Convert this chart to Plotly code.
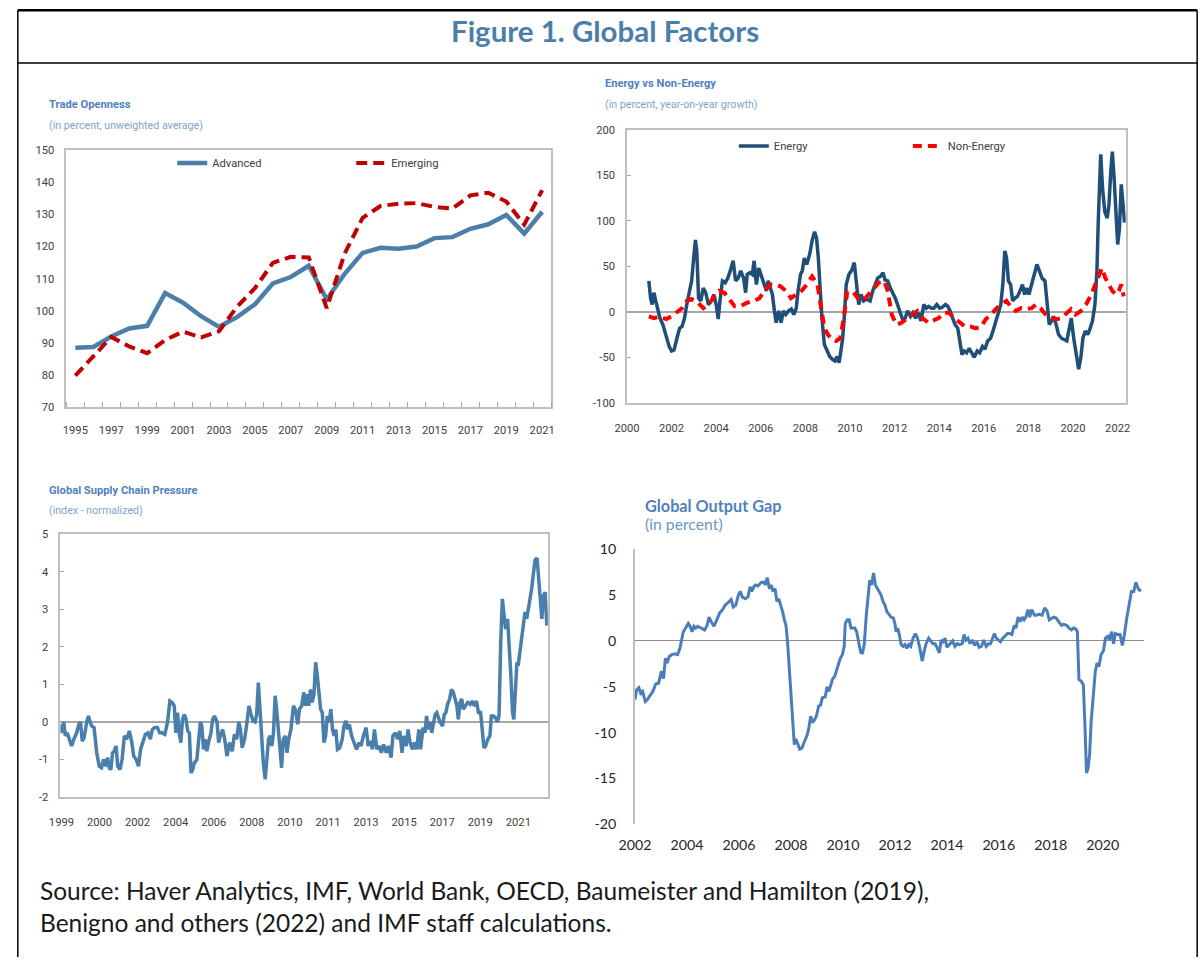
import plotly.graph_objects as go

W, H = 1202, 965
# The photographed page shows up slightly scaled and shifted; positions below are given in the
# reference picture's pixels and mapped back to page pixels with this correction.
CX0, CSX = 13.5, 0.985
CY0, CSY = 8.0, 0.982
FS = 1.016  # font size correction for the same scaling

# ---------------- Data ----------------
trade_years = list(range(1995, 2022))
advanced = [88.5, 88.7, 92.0, 94.5, 95.3, 105.5, 102.5, 98.3, 95.0, 98.0, 102.0, 108.5, 110.5, 114.0,
            103.5, 111.5, 118.0, 119.6, 119.3, 120.0, 122.6, 122.9, 125.5, 126.9, 129.8, 124.0, 130.8]
emerging = [79.8, 85.8, 91.8, 88.9, 86.8, 90.9, 93.5, 91.7, 93.6, 101.2, 107.0, 114.9, 116.8, 116.6,
            100.8, 117.8, 128.9, 132.6, 133.3, 133.5, 132.3, 131.8, 135.9, 136.7, 134.0, 126.8, 137.5]

energy_x = [2000.98, 2001.06, 2001.13, 2001.21, 2001.29, 2001.37, 2001.48, 2001.61, 2001.76, 2001.89,
            2002.00, 2002.11, 2002.24, 2002.36, 2002.47, 2002.58, 2002.68, 2002.79, 2002.90, 2002.99,
            2003.07, 2003.13, 2003.21, 2003.31, 2003.42, 2003.53, 2003.65, 2003.78, 2003.89, 2004.00,
            2004.09, 2004.17, 2004.28, 2004.41, 2004.52, 2004.63, 2004.76, 2004.87, 2004.99, 2005.10,
            2005.23, 2005.32, 2005.39, 2005.51, 2005.62, 2005.70, 2005.80, 2005.91, 2006.02, 2006.13,
            2006.25, 2006.33, 2006.41, 2006.52, 2006.61, 2006.69, 2006.80, 2006.91, 2007.01, 2007.12,
            2007.24, 2007.37, 2007.48, 2007.59, 2007.67, 2007.78, 2007.86, 2007.95, 2008.06, 2008.19,
            2008.30, 2008.41, 2008.50, 2008.58, 2008.66, 2008.74, 2008.85, 2008.98, 2009.09, 2009.20,
            2009.32, 2009.42, 2009.51, 2009.59, 2009.67, 2009.75, 2009.83, 2009.95, 2010.08, 2010.19,
            2010.30, 2010.39, 2010.50, 2010.61, 2010.74, 2010.90, 2011.02, 2011.13, 2011.24, 2011.37,
            2011.48, 2011.57, 2011.69, 2011.81, 2011.92, 2012.03, 2012.13, 2012.24, 2012.35, 2012.47,
            2012.58, 2012.71, 2012.82, 2012.94, 2013.07, 2013.18, 2013.31, 2013.42, 2013.53, 2013.65,
            2013.76, 2013.89, 2014.02, 2014.13, 2014.28, 2014.39, 2014.49, 2014.60, 2014.71, 2014.83,
            2014.94, 2015.02, 2015.12, 2015.23, 2015.34, 2015.46, 2015.57, 2015.70, 2015.81, 2015.94,
            2016.05, 2016.17, 2016.30, 2016.41, 2016.54, 2016.65, 2016.76, 2016.85, 2016.94, 2017.02,
            2017.10, 2017.20, 2017.29, 2017.40, 2017.51, 2017.62, 2017.73, 2017.83, 2017.92, 2018.02,
            2018.14, 2018.27, 2018.38, 2018.49, 2018.61, 2018.74, 2018.83, 2018.93, 2019.04, 2019.13,
            2019.24, 2019.35, 2019.48, 2019.59, 2019.72, 2019.83, 2019.92, 2020.03, 2020.16, 2020.25,
            2020.35, 2020.44, 2020.55, 2020.66, 2020.77, 2020.87, 2020.98, 2021.07, 2021.13, 2021.24,
            2021.32, 2021.42, 2021.53, 2021.61, 2021.69, 2021.76, 2021.84, 2021.92, 2022.00, 2022.08,
            2022.16, 2022.24, 2022.31]
energy = [34, 15, 8, 21, 12, 4, -7, -14, -27, -38,
          -43, -42, -29, -18, -16, -7, 8, 23, 34, 59,
          79, 67, 15, 12, 26, 21, 8, 12, 19, 8,
          -8, 12, 34, 32, 37, 45, 56, 34, 37, 45,
          37, 21, 41, 43, 41, 56, 30, 48, 39, 30,
          23, 34, 26, 19, 1, -12, 1, -12, 1, -3,
          1, 3, -3, 4, 23, 41, 45, 59, 52, 63,
          78, 88, 81, 59, 26, -7, -36, -43, -49, -52,
          -54, -49, -56, -43, -29, -3, 30, 41, 46, 54,
          26, 8, 19, 12, 14, 12, 23, 30, 37, 39,
          43, 35, 34, 26, 21, 15, 8, 1, -8, -7,
          1, -5, -1, -7, -1, -10, 8, 4, 6, 4,
          4, 8, 4, 5, 8, 6, 1, -7, -14, -18,
          -36, -47, -43, -45, -40, -45, -50, -43, -45, -38,
          -41, -32, -29, -21, -10, -3, 8, 30, 67, 59,
          34, 30, 12, 15, 17, 23, 30, 19, 26, 19,
          30, 45, 52, 45, 37, 34, 8, -14, -10, -5,
          -14, -25, -29, -30, -32, -18, -7, -29, -50, -63,
          -50, -29, -21, -25, -18, -10, 8, 45, 100, 173,
          136, 110, 103, 118, 154, 176, 147, 103, 74, 92,
          140, 118, 98]

nonenergy_x = [2000.98, 2001.21, 2001.45, 2001.76, 2002.00, 2002.24, 2002.47, 2002.68, 2002.90, 2003.18,
               2003.42, 2003.65, 2003.89, 2004.13, 2004.36, 2004.60, 2004.83, 2005.07, 2005.39, 2005.70,
               2005.94, 2006.17, 2006.41, 2006.65, 2006.88, 2007.12, 2007.35, 2007.59, 2007.83, 2008.06,
               2008.30, 2008.54, 2008.69, 2008.85, 2009.01, 2009.17, 2009.37, 2009.56, 2009.72, 2009.87,
               2010.11, 2010.35, 2010.58, 2010.82, 2011.06, 2011.29, 2011.53, 2011.69, 2011.87, 2012.08,
               2012.31, 2012.55, 2012.79, 2013.02, 2013.26, 2013.50, 2013.73, 2013.97, 2014.20, 2014.44,
               2014.68, 2014.91, 2015.15, 2015.39, 2015.62, 2015.86, 2016.09, 2016.33, 2016.57, 2016.80,
               2017.01, 2017.20, 2017.43, 2017.67, 2017.91, 2018.14, 2018.33, 2018.54, 2018.77, 2019.01,
               2019.24, 2019.48, 2019.72, 2019.91, 2020.11, 2020.35, 2020.58, 2020.82, 2021.06, 2021.29,
               2021.45, 2021.61, 2021.76, 2021.92, 2022.05, 2022.16, 2022.27]
nonenergy = [-5, -7, -5, -8, -5, -1, 4, 12, 14, 10,
             4, 8, 15, 23, 21, 14, 6, 6, 10, 12,
             15, 23, 30, 30, 28, 23, 15, 19, 23, 30,
             39, 30, 8, -18, -25, -30, -32, -29, -7, 21,
             23, 15, 12, 19, 26, 32, 34, 23, -3, -14,
             -12, -7, -3, 1, -7, -12, -10, -7, -1, -1,
             -7, -12, -16, -16, -18, -17, -8, -3, 4, 8,
             12, 6, 1, 4, 3, 4, 8, 4, -3, -7,
             -8, -7, -1, 3, -3, 1, 8, 19, 34, 48,
             37, 30, 23, 19, 23, 30, 17]

supply_x = [1998.95, 1999.03, 1999.11, 1999.19, 1999.28, 1999.39, 1999.49, 1999.60, 1999.73, 1999.84,
            1999.92, 2000.00, 2000.09, 2000.22, 2000.30, 2000.38, 2000.46, 2000.57, 2000.70, 2000.82,
            2000.93, 2001.03, 2001.14, 2001.22, 2001.30, 2001.38, 2001.46, 2001.54, 2001.63, 2001.71,
            2001.82, 2001.92, 2002.03, 2002.14, 2002.27, 2002.39, 2002.48, 2002.60, 2002.71, 2002.81,
            2002.92, 2003.04, 2003.17, 2003.28, 2003.38, 2003.49, 2003.62, 2003.73, 2003.85, 2003.98,
            2004.11, 2004.22, 2004.33, 2004.43, 2004.51, 2004.59, 2004.67, 2004.75, 2004.83, 2004.92,
            2005.00, 2005.08, 2005.16, 2005.24, 2005.32, 2005.40, 2005.52, 2005.60, 2005.69, 2005.76,
            2005.84, 2005.92, 2006.00, 2006.08, 2006.20, 2006.28, 2006.37, 2006.49, 2006.57, 2006.65,
            2006.76, 2006.86, 2006.97, 2007.09, 2007.22, 2007.33, 2007.44, 2007.54, 2007.62, 2007.70,
            2007.82, 2007.91, 2008.03, 2008.11, 2008.22, 2008.32, 2008.40, 2008.48, 2008.56, 2008.64,
            2008.72, 2008.81, 2008.89, 2008.97, 2009.05, 2009.13, 2009.21, 2009.29, 2009.36, 2009.44,
            2009.52, 2009.60, 2009.68, 2009.78, 2009.86, 2009.94, 2010.05, 2010.17, 2010.26, 2010.38,
            2010.46, 2010.57, 2010.67, 2010.75, 2010.83, 2010.91, 2010.99, 2011.07, 2011.16, 2011.24,
            2011.32, 2011.40, 2011.48, 2011.56, 2011.64, 2011.72, 2011.80, 2011.89, 2011.97, 2012.05,
            2012.13, 2012.21, 2012.29, 2012.40, 2012.52, 2012.60, 2012.70, 2012.78, 2012.86, 2012.97,
            2013.08, 2013.21, 2013.33, 2013.42, 2013.54, 2013.67, 2013.77, 2013.86, 2013.98, 2014.07,
            2014.19, 2014.30, 2014.40, 2014.51, 2014.64, 2014.75, 2014.87, 2014.96, 2015.08, 2015.19,
            2015.29, 2015.40, 2015.48, 2015.60, 2015.69, 2015.77, 2015.89, 2016.00, 2016.10, 2016.21,
            2016.29, 2016.41, 2016.50, 2016.58, 2016.67, 2016.75, 2016.83, 2016.91, 2016.99, 2017.07,
            2017.15, 2017.23, 2017.35, 2017.43, 2017.51, 2017.59, 2017.69, 2017.78, 2017.87, 2017.96,
            2018.04, 2018.11, 2018.19, 2018.27, 2018.35, 2018.45, 2018.56, 2018.68, 2018.77, 2018.89,
            2018.98, 2019.08, 2019.18, 2019.26, 2019.34, 2019.42, 2019.53, 2019.63, 2019.70, 2019.79,
            2019.89, 2019.99, 2020.07, 2020.15, 2020.23, 2020.31, 2020.39, 2020.48, 2020.56, 2020.64,
            2020.72, 2020.78, 2020.86, 2020.93, 2020.99, 2021.08, 2021.16, 2021.24, 2021.32, 2021.40,
            2021.48, 2021.56, 2021.64, 2021.72, 2021.80, 2021.90, 2021.97, 2022.05, 2022.13, 2022.21,
            2022.29, 2022.37]
supply = [-0.06, -0.29, 0.0, -0.37, -0.29, -0.46, -0.64, -0.46, -0.29, -0.06,
          0.0, -0.51, -0.42, 0.0, 0.16, 0.0, -0.11, -0.15, -0.82, -1.18,
          -1.22, -1.0, -1.18, -0.95, -1.22, -1.27, -0.82, -0.78, -0.64, -1.18,
          -1.27, -1.0, -0.37, -0.46, -0.24, -0.55, -0.91, -1.0, -1.18, -0.73,
          -0.55, -0.33, -0.29, -0.46, -0.2, -0.15, -0.15, -0.29, -0.29, -0.33,
          0.0, 0.56, 0.52, 0.43, -0.29, 0.25, -0.29, -0.55, 0.07, 0.2,
          0.07, -0.24, -0.29, -1.36, -1.27, -1.09, -1.0, -0.55, 0.0, -0.11,
          -0.73, -0.46, -0.78, -0.55, -0.29, 0.07, 0.16, 0.0, -0.55, -0.37,
          -0.2, -0.46, -0.91, -0.55, -0.78, -0.33, -0.46, 0.0, -0.2, -0.69,
          -0.46, -0.11, 0.43, 0.25, 0.03, 0.0, 0.2, 1.05, 0.34, -0.55,
          -1.09, -1.53, -1.09, -0.46, -0.37, -0.64, -0.29, 0.7, 0.34, -0.29,
          -0.82, -1.22, -0.46, -0.37, -0.82, -0.46, -0.2, 0.43, 0.34, -0.06,
          0.34, 0.43, 0.79, 0.43, 0.74, 0.43, 0.87, 0.52, 0.74, 1.59,
          1.23, 0.87, 0.34, 0.25, -0.55, -0.37, 0.16, 0.0, 0.34, -0.2,
          -0.37, -0.2, -0.73, -0.69, -0.46, -0.11, 0.03, -0.2, -0.06, -0.37,
          -0.55, -0.73, -0.55, -0.64, -0.37, -0.15, -0.64, -0.51, -0.73, -0.2,
          -0.73, -0.64, -0.82, -0.6, -0.82, -0.64, -0.95, -0.37, -0.29, -0.46,
          -0.24, -0.82, -0.37, -0.64, -0.2, -0.51, -0.73, -0.55, -0.73, -0.2,
          -0.73, -0.15, -0.29, 0.16, -0.2, 0.0, -0.29, 0.0, 0.2, 0.25,
          0.12, 0.0, -0.11, 0.2, 0.25, 0.47, 0.61, 0.87, 0.79, 0.61,
          0.43, 0.07, 0.52, 0.61, 0.34, 0.43, 0.52, 0.47, 0.56, 0.43,
          0.56, 0.25, 0.25, -0.2, -0.69, -0.64, -0.46, -0.37, 0.16, 0.16,
          0.12, 0.0, 0.16, 2.12, 3.28, 2.84, 2.48, 2.75, 2.12, 1.23,
          0.25, 0.07, 0.87, 1.59, 1.5, 1.94, 2.21, 2.57, 2.93, 2.75,
          3.1, 3.28, 3.55, 4.0, 4.31, 4.37, 3.9, 3.1, 2.75, 3.37,
          3.46, 2.57]
supply_tick_labels = ["1999", "2000", "2002", "2004", "2006", "2008", "2010",
                      "2011", "2013", "2015", "2017", "2019", "2021"]

gap_x = [2002.00, 2002.07, 2002.15, 2002.22, 2002.29, 2002.40, 2002.48, 2002.59, 2002.69, 2002.80,
         2002.91, 2003.02, 2003.10, 2003.17, 2003.24, 2003.32, 2003.42, 2003.54, 2003.64, 2003.73,
         2003.80, 2003.86, 2003.95, 2004.05, 2004.12, 2004.20, 2004.27, 2004.34, 2004.41, 2004.56,
         2004.68, 2004.78, 2004.85, 2004.93, 2005.04, 2005.15, 2005.25, 2005.37, 2005.47, 2005.59,
         2005.70, 2005.78, 2005.88, 2005.98, 2006.05, 2006.13, 2006.24, 2006.35, 2006.43, 2006.49,
         2006.57, 2006.64, 2006.73, 2006.80, 2006.87, 2006.95, 2007.02, 2007.09, 2007.17, 2007.24,
         2007.31, 2007.39, 2007.46, 2007.53, 2007.61, 2007.68, 2007.75, 2007.81, 2007.87, 2007.93,
         2008.00, 2008.07, 2008.13, 2008.19, 2008.26, 2008.34, 2008.42, 2008.48, 2008.56, 2008.63,
         2008.69, 2008.76, 2008.83, 2008.91, 2008.98, 2009.07, 2009.14, 2009.21, 2009.32, 2009.39,
         2009.46, 2009.54, 2009.61, 2009.68, 2009.76, 2009.83, 2009.90, 2009.98, 2010.05, 2010.09,
         2010.17, 2010.24, 2010.31, 2010.39, 2010.46, 2010.53, 2010.61, 2010.68, 2010.75, 2010.82,
         2010.90, 2010.97, 2011.03, 2011.10, 2011.18, 2011.25, 2011.32, 2011.40, 2011.47, 2011.54,
         2011.62, 2011.69, 2011.78, 2011.85, 2011.94, 2012.00, 2012.05, 2012.11, 2012.17, 2012.24,
         2012.32, 2012.39, 2012.46, 2012.54, 2012.61, 2012.70, 2012.79, 2012.87, 2012.96, 2013.05,
         2013.12, 2013.20, 2013.30, 2013.37, 2013.46, 2013.55, 2013.62, 2013.71, 2013.78, 2013.85,
         2013.93, 2014.00, 2014.10, 2014.22, 2014.31, 2014.40, 2014.48, 2014.59, 2014.66, 2014.73,
         2014.81, 2014.89, 2014.98, 2015.07, 2015.16, 2015.24, 2015.33, 2015.42, 2015.51, 2015.60,
         2015.68, 2015.77, 2015.83, 2015.90, 2015.98, 2016.06, 2016.15, 2016.24, 2016.33, 2016.42,
         2016.50, 2016.59, 2016.66, 2016.74, 2016.83, 2016.90, 2016.97, 2017.04, 2017.12, 2017.19,
         2017.26, 2017.37, 2017.44, 2017.54, 2017.66, 2017.76, 2017.85, 2017.94, 2018.03, 2018.11,
         2018.20, 2018.32, 2018.41, 2018.49, 2018.61, 2018.70, 2018.79, 2018.87, 2018.96, 2019.02,
         2019.08, 2019.17, 2019.25, 2019.31, 2019.37, 2019.43, 2019.49, 2019.55, 2019.64, 2019.71,
         2019.78, 2019.85, 2019.93, 2020.02, 2020.10, 2020.19, 2020.25, 2020.34, 2020.41, 2020.48,
         2020.57, 2020.66, 2020.75, 2020.83, 2020.92, 2021.01, 2021.10, 2021.19, 2021.27, 2021.36,
         2021.46]
gap = [-6.4, -5.3, -5.1, -5.7, -5.5, -6.6, -6.4, -5.9, -5.5, -4.7,
       -4.6, -3.3, -4.1, -1.9, -2.4, -1.7, -1.5, -1.4, -1.5, -0.8,
       0.3, 1.0, 1.4, 1.9, 1.6, 1.0, 1.6, 1.4, 1.6, 1.4,
       1.2, 1.7, 2.6, 2.1, 1.6, 2.3, 3.0, 3.4, 3.9, 4.2,
       4.5, 3.7, 3.9, 5.0, 5.4, 4.8, 4.6, 4.8, 5.9, 5.4,
       5.9, 6.1, 6.0, 6.2, 6.4, 6.4, 6.1, 6.9, 5.7, 6.1,
       5.4, 5.7, 4.3, 4.6, 3.9, 3.2, 2.3, 1.7, -0.1, -2.6,
       -5.5, -8.4, -11.3, -10.7, -11.3, -11.8, -11.7, -11.3, -10.6, -10.2,
       -9.5, -8.2, -8.9, -8.6, -8.2, -7.1, -7.0, -6.2, -6.1, -5.0,
       -5.5, -4.6, -4.1, -3.9, -3.2, -2.4, -1.9, -1.5, -0.6, 1.9,
       2.3, 2.3, 1.4, 1.4, 1.4, 1.0, -0.4, -1.2, -1.4, -0.4,
       2.8, 5.4, 6.6, 6.1, 7.4, 6.1, 5.7, 5.4, 5.0, 4.3,
       3.9, 3.2, 2.8, 2.6, 2.5, 1.9, 1.0, 1.4, 0.7, -0.4,
       -0.6, -0.4, -0.8, -0.4, -0.6, 0.3, 0.8, 0.3, -0.8, -2.2,
       -1.2, -0.3, 0.3, 0.0, -0.3, -0.3, -0.8, -1.3, 0.1, -0.1,
       0.3, -0.7, -0.4, 0.0, -0.6, -0.3, -0.4, -0.3, 0.7, 0.1,
       0.3, -0.3, 0.1, -0.5, -0.1, -0.7, -0.6, 0.1, -0.6, -0.3,
       -0.3, 0.3, 0.8, 0.3, 0.1, -0.1, 0.3, 0.5, 0.8, 0.8,
       0.7, 1.7, 1.4, 2.6, 2.1, 2.6, 2.3, 2.6, 3.4, 2.6,
       3.4, 2.8, 2.8, 2.9, 2.8, 3.6, 3.3, 2.3, 2.5, 2.6,
       2.5, 2.0, 1.7, 1.8, 1.7, 1.4, 1.2, 1.4, 1.3, 1.0,
       -4.2, -4.4, -4.8, -9.1, -14.4, -13.9, -12.4, -8.8, -5.1, -3.3,
       -2.4, -2.8, -1.5, -1.1, 0.3, 0.5, 0.1, 1.0, -0.3, 0.8,
       0.7, 0.7, -0.5, 0.7, 2.5, 3.9, 5.4, 5.4, 6.4, 5.7,
       5.4]

energy_yticks = [-100, -50, 0, 50, 100, 150, 200]
supply_yticks = [-2, -1, 0, 1, 2, 3, 4, 5]
gap_yticks = [-20, -15, -10, -5, 0, 5, 10]


# ---------------- Styling helpers (reference pixel -> paper fraction) ----------------
def page_x(r):
    return (r - CX0) / CSX


def page_y(r):
    return (r - CY0) / CSY


def px_x(r):
    return min(max(page_x(r) / W, 0.0007), 0.9993)


def px_y(r):
    return 1 - min(max(page_y(r) / H, 0.0013), 1.0)


def fs(s):
    return round(s * FS, 2)


NARROW = "Roboto, sans-serif"
CALIBRI = "Lato, sans-serif"
BOX = "#bfbfbf"
AX = "#a6a6a6"
TXT = "#404040"

fig = go.Figure()

fig.add_trace(go.Scatter(x=trade_years, y=advanced, mode="lines", name="Advanced",
                         line=dict(color="#4a7fab", width=4.5), xaxis="x", yaxis="y", legend="legend"))
fig.add_trace(go.Scatter(x=trade_years, y=emerging, mode="lines", name="Emerging",
                         line=dict(color="#c00000", width=4, dash="11px,6px"), xaxis="x", yaxis="y",
                         legend="legend"))
fig.add_trace(go.Scatter(x=energy_x, y=energy, mode="lines", name="Energy",
                         line=dict(color="#1f4e79", width=3.5), xaxis="x2", yaxis="y2", legend="legend2"))
fig.add_trace(go.Scatter(x=nonenergy_x, y=nonenergy, mode="lines", name="Non-Energy",
                         line=dict(color="#ff0000", width=4, dash="9px,6px"), xaxis="x2", yaxis="y2",
                         legend="legend2"))
fig.add_trace(go.Scatter(x=supply_x, y=supply, mode="lines", showlegend=False,
                         line=dict(color="#4a7fab", width=3.5), xaxis="x3", yaxis="y3"))
fig.add_trace(go.Scatter(x=gap_x, y=gap, mode="lines", showlegend=False,
                         line=dict(color="#4a7ebb", width=3), xaxis="x4", yaxis="y4"))

tick_small = dict(family=NARROW, size=fs(11), color=TXT)
tick_cal = dict(family=CALIBRI, size=fs(14), color="#262626")

layout = dict(
    width=W, height=H, autosize=False,
    margin=dict(l=0, r=0, t=0, b=0),
    paper_bgcolor="white", plot_bgcolor="white",
    showlegend=True,
    xaxis=dict(domain=[px_x(63), px_x(549)], range=[1994.5, 2021.5], anchor="y",
               tickmode="array", tickvals=trade_years[::2], ticktext=[str(v) for v in trade_years[::2]],
               ticks="", showgrid=False, zeroline=False, showline=True, linecolor=BOX, linewidth=1.5,
               mirror=True, tickfont=tick_small, ticklabelstandoff=12,
               minor=dict(ticks="inside", tick0=1994.5, dtick=1, ticklen=5, tickcolor=AX, showgrid=False)),
    yaxis=dict(domain=[px_y(406), px_y(149)], range=[70, 150], dtick=10, anchor="x",
               ticks="", showgrid=False, zeroline=False, showline=True, linecolor=BOX, linewidth=1.5,
               mirror=True, tickfont=tick_small, ticklabelstandoff=8),
    xaxis2=dict(domain=[px_x(625), px_x(1125)], range=[2000, 2022.36], anchor="y2",
                tick0=2000, dtick=2, ticks="", showgrid=False, zeroline=False, showline=True,
                linecolor=BOX, linewidth=1.5, mirror=True, tickfont=tick_small, ticklabelstandoff=14),
    yaxis2=dict(domain=[px_y(401.7), px_y(128.7)], range=[-100, 200], anchor="x2",
                tickmode="array", tickvals=energy_yticks, ticktext=[str(v) for v in energy_yticks],
                ticks="inside", ticklen=4, tickcolor=AX, showgrid=False, zeroline=True,
                zerolinecolor=AX, zerolinewidth=1.5, showline=True, linecolor=BOX, linewidth=1.5,
                mirror=True, tickfont=tick_small, ticklabelstandoff=8),
    xaxis3=dict(domain=[px_x(57), px_x(545.7)], range=[1998.95, 2022.42], anchor="y3",
                tickmode="array", tickvals=[1999 + 22 * k / 12 for k in range(len(supply_tick_labels))],
                ticktext=supply_tick_labels, ticks="", showgrid=False, zeroline=False, showline=True,
                linecolor=BOX, linewidth=1.5, mirror=True, tickfont=tick_small, ticklabelstandoff=14),
    yaxis3=dict(domain=[px_y(795.7), px_y(533.2)], range=[-2, 5], anchor="x3",
                tickmode="array", tickvals=supply_yticks, ticktext=[str(v) for v in supply_yticks],
                ticks="inside", ticklen=4, tickcolor=AX, showgrid=False, zeroline=True,
                zerolinecolor=AX, zerolinewidth=1.5, showline=True, linecolor=BOX, linewidth=1.5,
                mirror=True, tickfont=tick_small, ticklabelstandoff=8),
    xaxis4=dict(domain=[px_x(633), px_x(1143)], range=[2002, 2021.57], anchor="y4",
                tick0=2002, dtick=2, ticks="", showgrid=False, zeroline=False, showline=False,
                tickfont=tick_cal, ticklabelstandoff=10),
    yaxis4=dict(domain=[px_y(823), px_y(548)], range=[-20, 10], anchor="x4",
                tickmode="array", tickvals=gap_yticks, ticktext=[str(v) for v in gap_yticks],
                ticks="", showgrid=False, zeroline=True, zerolinecolor="#8c8c8c", zerolinewidth=1,
                showline=True, linecolor="#bfbfbf", linewidth=1.5,
                tickfont=tick_cal, ticklabelstandoff=14),
    legend=dict(orientation="h", x=page_x(178) / W - 9 / W, y=px_y(162), xanchor="left", yanchor="middle",
                bgcolor="rgba(0,0,0,0)", font=dict(family=NARROW, size=fs(11), color=TXT),
                entrywidth=134, entrywidthmode="pixels", itemwidth=30),
    legend2=dict(orientation="h", x=page_x(741) / W - 9 / W, y=px_y(145), xanchor="left", yanchor="middle",
                 bgcolor="rgba(0,0,0,0)", font=dict(family=NARROW, size=fs(11), color=TXT),
                 entrywidth=129, entrywidthmode="pixels", itemwidth=30),
)
fig.update_layout(**layout)

# Outer frame of the figure box
frame_line = dict(color="black", width=1.5)
left_x, right_x, top_y = px_x(5), px_x(1199), px_y(7)
fig.add_shape(type="line", xref="paper", yref="paper", x0=left_x, x1=right_x, y0=top_y, y1=top_y,
              line=dict(color="black", width=2.5))
fig.add_shape(type="line", xref="paper", yref="paper", x0=left_x, x1=right_x, y0=px_y(62), y1=px_y(62),
              line=frame_line)
fig.add_shape(type="line", xref="paper", yref="paper", x0=left_x, x1=left_x, y0=top_y, y1=0,
              line=frame_line)
fig.add_shape(type="line", xref="paper", yref="paper", x0=right_x, x1=right_x, y0=top_y, y1=0,
              line=frame_line)


def note(text, x, y, size, color, family, bold=False, xanchor="left"):
    t = f"<b>{text}</b>" if bold else text
    fig.add_annotation(text=t, x=px_x(x), y=px_y(y), xref="paper", yref="paper", showarrow=False,
                       xanchor=xanchor, yanchor="middle", font=dict(size=fs(size), color=color, family=family))


note("Figure 1. Global Factors", 603, 29, 29, "#4a7eab", CALIBRI, bold=True, xanchor="center")
note("Trade Openness", 44, 103, 11, "#4f81bd", NARROW, bold=True)
note("(in percent, unweighted average)", 44, 124, 10.5, "#7ba4cf", NARROW)
note("Energy vs Non-Energy", 601, 82, 11, "#4f81bd", NARROW, bold=True)
note("(in percent, year-on-year growth)", 601, 103, 10.5, "#7ba4cf", NARROW)
note("Global Supply Chain Pressure", 44, 489, 11, "#4f81bd", NARROW, bold=True)
note("(index - normalized)", 44, 509, 10.5, "#7ba4cf", NARROW)
note("Global Output Gap", 641, 504, 16, "#4f81bd", CALIBRI, bold=True)
note("(in percent)", 641, 522, 15.5, "#6a97c9", CALIBRI)
note("Source: Haver Analytics, IMF, World Bank, OECD, Baumeister and Hamilton (2019),", 35, 889, 24.1,
     "#1a1a1a", CALIBRI)
note("Benigno and others (2022) and IMF staff calculations.", 35, 921, 24.1, "#1a1a1a", CALIBRI)

fix_page = ("}); document.documentElement.style.margin='0'; document.body.style.margin='0'; "
            "document.body.style.padding='0'; document.documentElement.style.overflow='hidden'; "
            "(function(){")
fig.write_html("out.html", config={"displayModeBar": False}, post_script=fix_page)
